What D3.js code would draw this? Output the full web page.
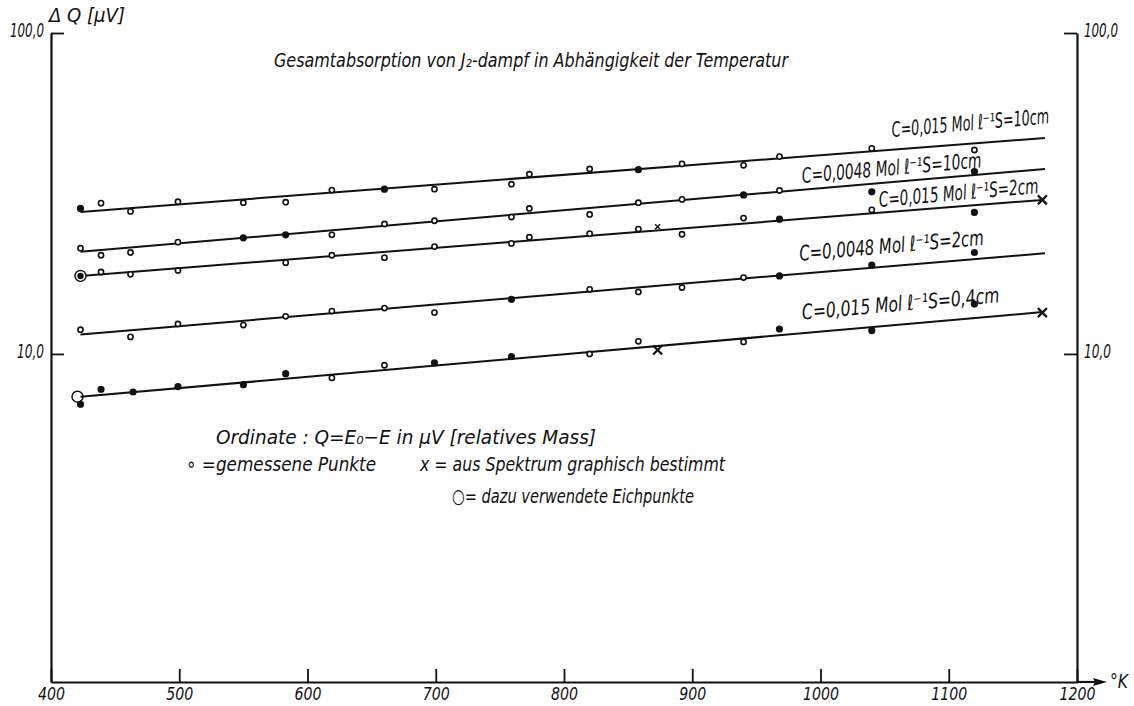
<!DOCTYPE html>
<html><head><meta charset="utf-8">
<script src="https://cdn.jsdelivr.net/npm/d3@7"></script>
<style>
body{margin:0;background:#fff}
svg text{font-family:"DejaVu Sans Condensed","DejaVu Sans",sans-serif;font-style:italic;fill:#111}
</style></head><body>
<svg id="c" width="1134" height="706"></svg>
<script>
// ---- data ----
const xTicks = [400, 500, 600, 700, 800, 900, 1000, 1100, 1200];
const yTicks = [10, 100];
const xDomain = [400, 1200];
const yDomain = [0.95, 100];
const titleText = "Gesamtabsorption von J₂-dampf in Abhängigkeit der Temperatur";
const yAxisLabel = "Δ Q [μV]";
const xUnitLabel = "°K";
const seriesLabels = [
  "C=0,015 Mol ℓ⁻¹S=10cm",
  "C=0,0048 Mol ℓ⁻¹S=10cm",
  "C=0,015 Mol ℓ⁻¹S=2cm",
  "C=0,0048 Mol ℓ⁻¹S=2cm",
  "C=0,015 Mol ℓ⁻¹S=0,4cm"
];
// fitted straight lines: [T start, Q start, T end, Q end]
const fitLines = [
  [423, 27.7, 1175, 47.1],
  [423, 20.8, 1175, 37.7],
  [423, 17.5, 1173, 30.2],
  [423, 11.5, 1175, 20.6],
  [423, 7.35, 1173, 13.5]
];
// measured points [T, Q, kind]  (o = open, f = filled)
const s1 = [[423,28.4,'f'],[439,29.5,'o'],[462,27.8,'o'],[499,29.8,'o'],[550,29.6,'o'],[583,29.7,'o'],[619,32.4,'o'],[660,32.6,'f'],[699,32.6,'o'],[759,33.8,'o'],[773,36.3,'o'],[820,37.7,'o'],[858,37.5,'f'],[892,39.1,'o'],[940,38.7,'o'],[968,41.2,'o'],[1040,43.7,'o'],[1120,43.2,'o']];
const s2 = [[423,21.35,'o'],[439,20.3,'o'],[462,20.7,'o'],[499,22.3,'o'],[550,23.0,'f'],[583,23.5,'f'],[619,23.5,'o'],[660,25.4,'o'],[699,26.0,'o'],[759,26.7,'o'],[773,28.4,'o'],[820,27.2,'o'],[858,29.6,'o'],[892,30.3,'o'],[940,31.3,'f'],[968,32.3,'o'],[1040,32.0,'f'],[1120,37.0,'f']];
const s3 = [[439,18.0,'o'],[462,17.7,'o'],[499,18.2,'o'],[583,19.25,'o'],[619,20.3,'o'],[660,19.95,'o'],[699,21.6,'o'],[759,22.1,'o'],[773,23.1,'o'],[820,23.7,'o'],[858,24.5,'o'],[892,23.6,'o'],[940,26.5,'o'],[968,26.3,'f'],[1040,28.1,'o'],[1120,27.6,'f']];
const s4 = [[423,11.9,'o'],[462,11.3,'o'],[499,12.4,'o'],[550,12.3,'o'],[583,13.1,'o'],[619,13.6,'o'],[660,13.9,'o'],[699,13.45,'o'],[759,14.8,'f'],[820,15.9,'o'],[858,15.6,'o'],[892,16.1,'o'],[940,17.3,'o'],[968,17.5,'f'],[1040,18.9,'f'],[1120,20.7,'f']];
const s5 = [[423,6.97,'f'],[439,7.76,'f'],[464,7.61,'f'],[499,7.91,'f'],[550,8.02,'f'],[583,8.68,'f'],[619,8.42,'o'],[660,9.22,'o'],[699,9.38,'f'],[759,9.81,'f'],[820,10.0,'o'],[858,10.95,'o'],[940,10.9,'o'],[968,11.96,'f'],[1040,11.82,'f'],[1120,14.3,'f']];
const seriesPoints = [s1, s2, s3, s4, s5];
// calibration points (Eichpunkte)
const calibFilled = [[423, 17.5]];
const calibOpen = [[423, 7.36]];
// points from spectrum (x)
const crossBig = [[1173, 30.2], [873, 10.29], [1173, 13.45]];
const crossSmall = [[873, 24.9]];
// label anchors in data coords [T, Q]
const labelAnchors = [[1056, 47.4], [986, 34.1], [1046, 28.7], [984, 19.5], [986, 12.8]];
const labelWidths = [158, 180, 160, 185, 198];
const legendLines = [
  "Ordinate :  Q=E₀−E  in  μV [relatives Mass]",
  "∘ =gemessene  Punkte",
  "x = aus Spektrum  graphisch  bestimmt",
  "○= dazu  verwendete  Eichpunkte"
];

// ---- drawing ----
const svg = d3.select("#c");
const x = d3.scaleLinear().domain(xDomain).range([51, 1077]);
const y = d3.scaleLog().domain(yDomain).range([682, 33]);
const fmtY = d => d3.format(".1f")(d).replace(".", ",");
const FONT = '"DejaVu Sans Condensed","DejaVu Sans",sans-serif';

// axes
const gx = svg.append("g").attr("transform", `translate(0,${y(yDomain[0])})`)
  .call(d3.axisBottom(x).tickValues(xTicks).tickSizeInner(-13).tickSizeOuter(0).tickPadding(5).tickFormat(d3.format("d")));
const gl = svg.append("g").attr("transform", `translate(${x(xDomain[0])},0)`)
  .call(d3.axisLeft(y).tickValues(yTicks).tickSizeInner(-13).tickSizeOuter(0).tickPadding(7).tickFormat(fmtY));
const gr = svg.append("g").attr("transform", `translate(${x(xDomain[1])},0)`)
  .call(d3.axisRight(y).tickValues(yTicks).tickSizeInner(-13).tickSizeOuter(0).tickPadding(7).tickFormat(fmtY));
[gx, gl, gr].forEach(g => {
  g.select(".domain").attr("stroke", "#111").attr("stroke-width", 2.2);
  g.selectAll(".tick line").attr("stroke", "#111").attr("stroke-width", 1.8);
  g.selectAll(".tick text").attr("font-size", 19).attr("fill", "#111")
    .style("font-family", FONT).style("font-style", "italic");
});
gx.selectAll(".tick text").attr("font-size", 18).attr("textLength", d => d >= 1000 ? 36 : 27).attr("lengthAdjust", "spacingAndGlyphs");
gl.selectAll(".tick text").attr("textLength", d => d >= 100 ? 34 : 27).attr("lengthAdjust", "spacingAndGlyphs").attr("dy", "0.2em");
gr.selectAll(".tick text").attr("textLength", d => d >= 100 ? 34 : 27).attr("lengthAdjust", "spacingAndGlyphs").attr("dy", "0.2em");

// arrow on x axis
const ax0 = x(xDomain[1]), ay0 = y(yDomain[0]);
svg.append("line").attr("x1", ax0).attr("y1", ay0).attr("x2", ax0 + 24).attr("y2", ay0)
  .attr("stroke", "#111").attr("stroke-width", 2.2);
svg.append("path").attr("d", `M${ax0 + 30},${ay0} L${ax0 + 16},${ay0 - 4} L${ax0 + 18},${ay0} L${ax0 + 16},${ay0 + 4} Z`).attr("fill", "#111");
svg.append("text").attr("x", ax0 + 33).attr("y", ay0 + 6).attr("font-size", 19)
  .attr("textLength", 18).attr("lengthAdjust", "spacingAndGlyphs").text(xUnitLabel);

// y axis label
svg.append("text").attr("x", x(xDomain[0]) - 2).attr("y", 22).attr("font-size", 19)
  .attr("textLength", 76).attr("lengthAdjust", "spacingAndGlyphs").text(yAxisLabel);

// title
svg.append("text").attr("x", 274).attr("y", 67).attr("font-size", 20)
  .attr("textLength", 514).attr("lengthAdjust", "spacingAndGlyphs").text(titleText);

// fitted lines
const line = d3.line().x(d => x(d[0])).y(d => y(d[1]));
svg.selectAll(".fit").data(fitLines).join("path").attr("class", "fit")
  .attr("d", d => line([[d[0], d[1]], [d[2], d[3]]]))
  .attr("fill", "none").attr("stroke", "#111").attr("stroke-width", 2);

// points
seriesPoints.forEach(pts => {
  svg.append("g").selectAll("circle").data(pts).join("circle")
    .attr("cx", d => x(d[0])).attr("cy", d => y(d[1]))
    .attr("r", d => d[2] === 'f' ? 2.8 : 2.6)
    .attr("fill", d => d[2] === 'f' ? "#111" : "#fff")
    .attr("stroke", "#111").attr("stroke-width", 1.6);
});
// calibration points
svg.selectAll(".calf").data(calibFilled).join("g").attr("class", "calf").each(function (d) {
  const g = d3.select(this);
  g.append("circle").attr("cx", x(d[0])).attr("cy", y(d[1])).attr("r", 5.5).attr("fill", "#fff").attr("stroke", "#111").attr("stroke-width", 1.4);
  g.append("circle").attr("cx", x(d[0])).attr("cy", y(d[1])).attr("r", 3.2).attr("fill", "#111");
});
svg.selectAll(".calo").data(calibOpen).join("circle").attr("class", "calo")
  .attr("cx", d => x(d[0]) - 3).attr("cy", d => y(d[1])).attr("r", 5.5)
  .attr("fill", "none").attr("stroke", "#111").attr("stroke-width", 1.5);
// crosses
const cross = (sel, data, s, w) => sel.selectAll(null).data(data).join("path")
  .attr("d", d => { const cx = x(d[0]), cy = y(d[1]); return `M${cx - s},${cy - s}L${cx + s},${cy + s}M${cx - s},${cy + s}L${cx + s},${cy - s}`; })
  .attr("stroke", "#111").attr("stroke-width", w).attr("fill", "none");
cross(svg.append("g"), crossBig, 4.5, 2.2);
cross(svg.append("g"), crossSmall, 2.5, 1.5);

// series labels
svg.selectAll(".lab").data(seriesLabels).join("text").attr("class", "lab")
  .attr("transform", (d, i) => `translate(${x(labelAnchors[i][0])},${y(labelAnchors[i][1])}) rotate(-5)`)
  .attr("font-size", 21).attr("textLength", (d, i) => labelWidths[i]).attr("lengthAdjust", "spacingAndGlyphs")
  .text(d => d);

// legend block
const legendPos = [[216, 444, 380], [186, 471, 190], [420, 471, 305], [452, 503, 242]];
svg.selectAll(".leg").data(legendLines).join("text").attr("class", "leg")
  .attr("x", (d, i) => legendPos[i][0]).attr("y", (d, i) => legendPos[i][1])
  .attr("font-size", 20).attr("textLength", (d, i) => legendPos[i][2]).attr("lengthAdjust", "spacingAndGlyphs")
  .text(d => d);
</script>
</body></html>
